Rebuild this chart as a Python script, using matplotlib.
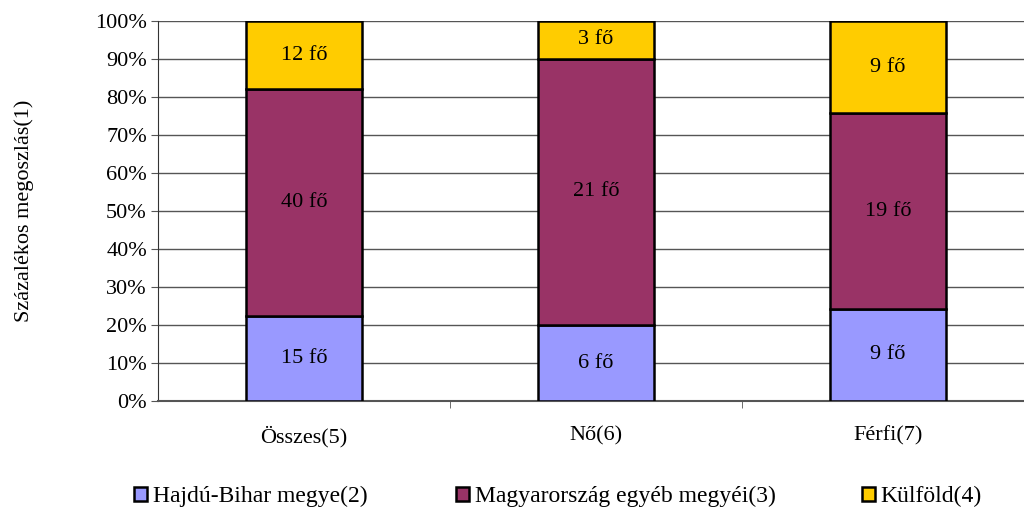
import matplotlib.pyplot as plt
from matplotlib.patches import Patch
from matplotlib.ticker import PercentFormatter, FixedLocator

plt.rcParams['font.family'] = ['Liberation Serif', 'DejaVu Serif']
plt.rcParams['font.size'] = 16

# headcounts per group
categories = ['Összes(5)', 'Nő(6)', 'Férfi(7)']
series_names = ['Hajdú-Bihar megye(2)', 'Magyarország egyéb megyéi(3)', 'Külföld(4)']
hajdu = [15, 6, 9]
egyeb = [40, 21, 19]
kulfold = [12, 3, 9]
colors = ['#9999FF', '#993366', '#FFCC00']

series = [hajdu, egyeb, kulfold]
totals = [sum(v) for v in zip(*series)]

fig = plt.figure(figsize=(10.24, 5.09), dpi=100)
ax = fig.add_axes([158/1024, 108/509, 876/1024, 380/509])

x = list(range(len(categories)))
bottom = [0.0] * len(categories)
for vals, col in zip(series, colors):
    share = [v / t * 100 for v, t in zip(vals, totals)]
    ax.bar(x, share, width=0.4, bottom=bottom, color=col, edgecolor='black',
           linewidth=1.8, zorder=3)
    for xi, b, s, v in zip(x, bottom, share, vals):
        ax.text(xi, b + s / 2, f'{v} fő', ha='center', va='center', zorder=4)
    bottom = [b + s for b, s in zip(bottom, share)]

ax.set_xlim(-0.5, 2.5)
ax.set_ylim(0, 100)
ax.set_yticks(range(0, 101, 10))
ax.yaxis.set_major_formatter(PercentFormatter(decimals=0))
ax.yaxis.grid(True, color='#555555', linewidth=1, zorder=0)
ax.set_axisbelow(True)

ax.set_xticks(x)
ax.set_xticklabels(categories)
ax.xaxis.set_minor_locator(FixedLocator([0.5, 1.5]))
ax.tick_params(axis='x', which='major', length=0, pad=18)
ax.tick_params(axis='x', which='minor', length=5, color='#555555', direction='out')
ax.tick_params(axis='y', length=5, color='#555555', direction='out', pad=3)

for side in ['top', 'right']:
    ax.spines[side].set_visible(False)
ax.spines['left'].set_color('#333333')
ax.spines['bottom'].set_color('#555555')
ax.spines['bottom'].set_linewidth(1.5)

ax.set_ylabel('Százalékos megoszlás(1)', labelpad=44)

# legend entries spread along the bottom
leg_x = [0.119, 0.434, 0.830]
for name, col, lx in zip(series_names, colors, leg_x):
    h = Patch(facecolor=col, edgecolor='black', linewidth=1.8)
    fig.legend(handles=[h], labels=[name], loc='center left', bbox_to_anchor=(lx, 0.024),
               frameon=False, handlelength=0.55, handleheight=0.55, handletextpad=0.25,
               borderpad=0, fontsize=17)

fig.savefig('out.png', dpi=100)
